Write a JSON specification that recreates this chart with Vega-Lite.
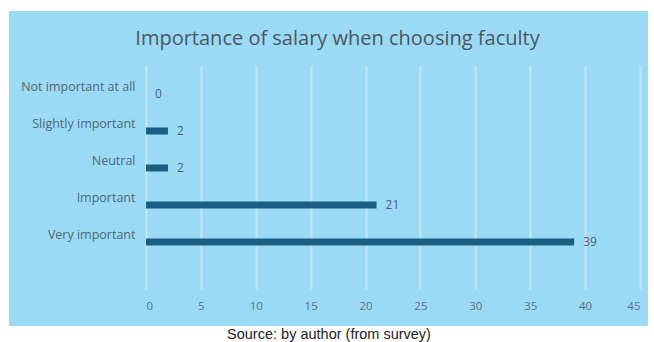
{
  "$schema": "https://vega.github.io/schema/vega-lite/v6.json",
  "background": "#9bdaf5",
  "padding": 0,
  "config": {"view": {"stroke": null}, "font": "Open Sans"},
  "spacing": 0,
  "vconcat": [
    {
      "width": 654, "height": 11,
      "view": {"fill": "white", "stroke": null},
      "data": {"values": []},
      "mark": "point"
    },
    {
      "spacing": 0,
      "hconcat": [
        {
          "width": 9, "height": 55,
          "view": {"fill": "white", "stroke": null},
          "data": {"values": []},
          "mark": "point"
        },
        {
          "width": 639, "height": 55,
          "data": {"values": [{"title": "Importance of salary when choosing faculty"}]},
          "mark": {"type": "text", "font": "Open Sans", "fontSize": 20, "color": "#4a5761", "dx": 9, "dy": 0},
          "encoding": {"text": {"field": "title", "type": "nominal"}}
        },
        {
          "width": 6, "height": 55,
          "view": {"fill": "white", "stroke": null},
          "data": {"values": []},
          "mark": "point"
        }
      ]
    },
    {
      "spacing": 0,
      "hconcat": [
        {
          "width": 9, "height": 260,
          "view": {"fill": "white", "stroke": null},
          "data": {"values": []},
          "mark": "point"
        },
        {
          "width": 494, "height": 223,
          "data": {"values": [
            {"category": "Not important at all", "value": 0},
            {"category": "Slightly important", "value": 2},
            {"category": "Neutral", "value": 2},
            {"category": "Important", "value": 21},
            {"category": "Very important", "value": 39}
          ]},
          "encoding": {
            "y": {
              "field": "category", "type": "nominal",
              "sort": ["Not important at all", "Slightly important", "Neutral", "Important", "Very important"],
              "scale": {"paddingInner": 0, "paddingOuter": 0.514, "align": 0.25},
              "axis": {
                "title": null, "domain": false, "ticks": false, "grid": false,
                "labelPadding": 11, "labelOffset": -7, "minExtent": 137, "maxExtent": 137,
                "labelFontSize": 12.5, "labelColor": "#4f6774"
              }
            },
            "x": {
              "field": "value", "type": "quantitative",
              "scale": {"domain": [0, 45], "nice": false},
              "axis": {
                "title": null, "domain": false, "ticks": false, "grid": true,
                "values": [0, 5, 10, 15, 20, 25, 30, 35, 40, 45],
                "gridColor": "#c4e5f3", "gridWidth": 2,
                "labelPadding": 11, "labelFontSize": 11.5, "labelColor": "#5a7282",
                "minExtent": 37, "maxExtent": 37
              }
            }
          },
          "layer": [
            {"mark": {"type": "bar", "size": 7, "color": "#1b5e82"}},
            {
              "mark": {"type": "text", "align": "left", "dx": 9, "fontSize": 12, "color": "#4d6572"},
              "encoding": {"text": {"field": "value", "type": "quantitative"}}
            }
          ]
        },
        {
          "width": 8, "height": 260,
          "data": {"values": []},
          "mark": "point"
        },
        {
          "width": 6, "height": 260,
          "view": {"fill": "white", "stroke": null},
          "data": {"values": []},
          "mark": "point"
        }
      ]
    },
    {
      "width": 654, "height": 16,
      "view": {"fill": "white", "stroke": null},
      "data": {"values": [{"source": "Source: by author (from survey)"}]},
      "mark": {"type": "text", "font": "Liberation Sans", "fontSize": 14.5, "color": "#222222", "dx": 2, "dy": 1},
      "encoding": {"text": {"field": "source", "type": "nominal"}}
    }
  ]
}
